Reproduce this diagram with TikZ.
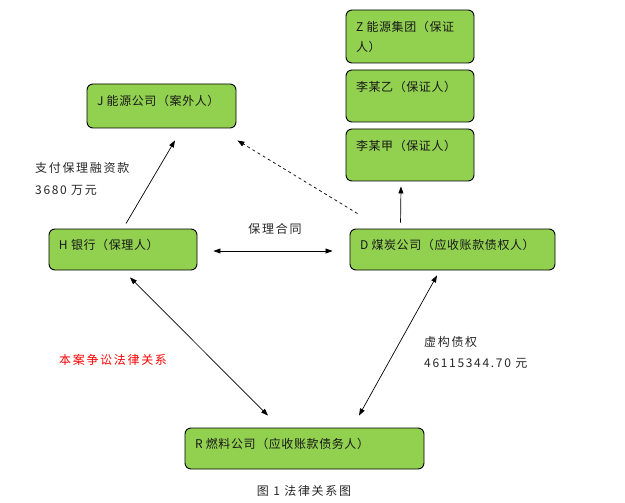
\documentclass[tikz,border=0pt]{standalone}
\usepackage{fontspec}
\setmainfont{Noto Sans CJK SC}
\newfontfamily\boxfont[LetterSpace=5]{Noto Sans CJK SC}
\newfontfamily\labfont[LetterSpace=14]{Noto Sans CJK SC}
\usetikzlibrary{arrows.meta,calc}
\definecolor{boxgreen}{HTML}{92D050}
\newcommand{\bt}[4]{\parbox[c][#2pt][t]{\dimexpr#1pt-20pt\relax}{\raggedright\rule{0pt}{#3pt}#4}}
\begin{document}
\begin{tikzpicture}[x=1pt,y=-1pt,
  box/.style={draw=black, line width=0.9pt, fill=boxgreen, rounded corners=6pt,
    inner xsep=10pt, inner ysep=0pt, text=black!90, font=\boxfont\fontsize{12}{20}\selectfont},
  lbl/.style={font=\labfont\fontsize{12}{21}\selectfont, inner sep=0pt, text=black!85},
  tip/.tip={Triangle[length=7pt,width=5pt]},
  conn/.style={line width=0.7pt, tip-tip},
  oneway/.style={line width=0.7pt, -tip}]
\useasboundingbox (0,0) rectangle (625,503);

% boxes
\node[box] (z)  at (410,36.5)  {\bt{128}{53}{22}{Z 能源集团（保证\\人）}};
\node[box] (ly) at (410,96)    {\bt{128}{52}{22}{李某乙（保证人）}};
\node[box] (lj) at (410,155)   {\bt{128}{52}{22}{李某甲（保证人）}};
\node[box] (j)  at (161.5,106) {\bt{149}{44}{22}{J 能源公司（案外人）}};
\node[box] (h)  at (123,249.5) {\bt{148}{41}{20}{H 银行（保理人）}};
\node[box] (d)  at (452.5,249.5) {\bt{205}{41}{20}{D 煤炭公司（应收账款债权人）}};
\node[box] (r)  at (304.5,448.5) {\bt{239}{41}{20}{R 燃料公司（应收账款债务人）}};

% connectors
\draw[oneway] ($(h.north)+(3,-5)$) -- ($(j.south)+(13.5,12)$);
\draw[oneway, dashed] ($(d.north west)+(8,-15)$) -- ($(j.south east)+(1,12)$);
\draw[oneway] ($(d.north west)+(51,-6)$) -- ($(lj.south)+(-9,5)$);
\draw[conn] ($(h.east)+(16,1.5)$) -- ($(d.west)+(-17,1.5)$);
\draw[conn] ($(h.south)+(7,7)$) -- ($(r.north)+(-36.5,-12)$);
\draw[conn] ($(d.south)+(-15.5,5)$) -- ($(r.north)+(54.5,-12)$);

% labels
\node[lbl, anchor=west] (pay1) at (35,168) {支付保理融资款};
\node[lbl, anchor=west] (pay2) at (35,190) {3680 万元};
\node[lbl] (ht) at (275,229) {保理合同};
\node[lbl, anchor=west, text=red] (case) at (59,360) {本案争讼法律关系};
\node[lbl, anchor=west] (xg1) at (424,342) {虚构债权};
\node[lbl, anchor=west] (xg2) at (424,363) {46115344.70 元};
\node[lbl] (cap) at (304,491) {图 1 法律关系图};
\end{tikzpicture}
\end{document}
